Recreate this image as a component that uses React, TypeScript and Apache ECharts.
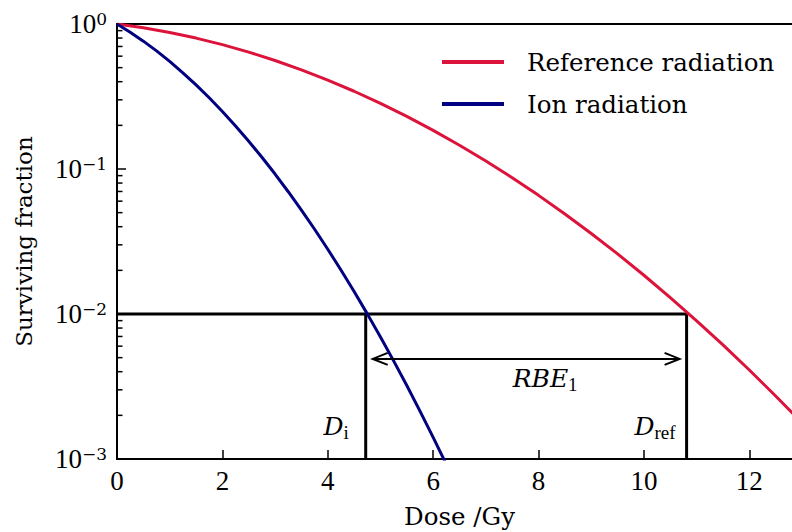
import React, { useEffect, useRef } from "react";
import * as echarts from "echarts";

// Reference radiation (photon) survival curve
const doseRef = [0, 0.5, 1, 1.5, 2, 2.5, 3, 3.5, 4, 4.5, 5, 5.5, 6, 6.5, 7, 7.5, 8, 8.5, 9, 9.5, 10, 10.5, 11, 11.5, 12, 12.5, 13];
const survRef = [1, 0.9419, 0.8742, 0.7996, 0.7206, 0.64, 0.5601, 0.4831, 0.4105, 0.3437, 0.2837, 0.2306, 0.1848, 0.1459, 0.1135, 0.0871, 0.0658, 0.049, 0.0359, 0.02597, 0.0185, 0.01298, 0.00898, 0.00612, 0.00411, 0.00272, 0.00178];

// Ion radiation survival curve
const doseIon = [0, 0.25, 0.5, 0.75, 1, 1.25, 1.5, 1.75, 2, 2.25, 2.5, 2.75, 3, 3.25, 3.5, 3.75, 4, 4.25, 4.5, 4.75, 5, 5.25, 5.5, 5.75, 6, 6.25];
const survIon = [1, 0.8781, 0.7615, 0.6522, 0.5517, 0.4609, 0.3802, 0.3098, 0.2493, 0.1981, 0.1555, 0.1205, 0.0923, 0.0697, 0.0521, 0.0384, 0.02797, 0.02012, 0.01428, 0.01002, 0.00694, 0.00475, 0.00321, 0.00214, 0.00141, 0.000918];

// Iso-effect annotation
const sfLevel = 0.01;
const doseIonIso = 4.72;
const doseRefIso = 10.81;
const arrowLevel = 0.0049;

// Axes
const xMin = 0;
const xMax = 13;
const xInterval = 2;
const yMin = 0.001;
const yMax = 1;
const yDecades = [0.001, 0.01, 0.1];
const minorMultipliers = [2, 3, 4, 5, 6, 7, 8, 9];

const seriesNames = ["Reference radiation", "Ion radiation"];

const SERIF = "Liberation Serif";
const TEXT = "DejaVu Serif";

export default function App() {
  const ref = useRef<HTMLDivElement>(null);

  useEffect(() => {
    const chart = echarts.init(ref.current!, null, { renderer: "svg" });

    const minorValues: number[] = [];
    yDecades.forEach((d) => minorMultipliers.forEach((k) => minorValues.push(k * d)));

    const sup = (v: number) => {
      const e = Math.round(Math.log10(v));
      return `{b|10}{s|${e === 0 ? "0" : "\u2212" + -e}}`;
    };

    const mathRich = {
      m: { fontFamily: TEXT, fontStyle: "italic", fontSize: 25, color: "#000", padding: [0, 0, 3, 0] },
      s: { fontFamily: SERIF, fontSize: 19, color: "#000", verticalAlign: "bottom" },
    };

    const option: any = {
      animation: false,
      backgroundColor: "#fff",
      grid: {
        left: 117,
        top: 24,
        width: 685,
        height: 435,
        containLabel: false,
        outerBoundsMode: "none",
        show: true,
        borderColor: "#000",
        borderWidth: 2,
        backgroundColor: "transparent",
      },
      legend: {
        orient: "vertical",
        left: 442,
        top: 47,
        padding: 0,
        itemGap: 12,
        itemWidth: 62,
        itemHeight: 4,
        icon: "rect",
        data: seriesNames,
        textStyle: {
          fontFamily: TEXT,
          fontSize: 24.5,
          lineHeight: 30,
          color: "#000",
          padding: [0, 0, 0, 18],
        },
      },
      xAxis: {
        type: "value",
        min: xMin,
        max: xMax,
        interval: xInterval,
        name: "Dose /Gy",
        nameLocation: "middle",
        nameGap: 45,
        nameTextStyle: { fontFamily: TEXT, fontSize: 24.5, color: "#000" },
        axisLine: { show: true, lineStyle: { color: "#000", width: 2 } },
        axisTick: { show: true, inside: true, length: 9, lineStyle: { color: "#000", width: 1.5 } },
        axisLabel: { fontFamily: SERIF, fontSize: 27, color: "#000", margin: 8, showMaxLabel: false },
        splitLine: { show: false },
      },
      yAxis: {
        type: "log",
        logBase: 10,
        min: yMin,
        max: yMax,
        name: "Surviving fraction",
        nameLocation: "middle",
        nameGap: 82,
        nameTextStyle: { fontFamily: TEXT, fontSize: 23, color: "#000" },
        axisLine: { show: true, lineStyle: { color: "#000", width: 2 } },
        axisTick: { show: true, inside: true, length: 9, lineStyle: { color: "#000", width: 1.5 } },
        axisLabel: {
          margin: 10,
          formatter: sup,
          rich: {
            b: { fontFamily: SERIF, fontSize: 27, lineHeight: 27, color: "#000" },
            s: { fontFamily: TEXT, fontSize: 17, lineHeight: 19, color: "#000", verticalAlign: "top" },
          },
        },
        splitLine: { show: false },
      },
      series: [
        {
          name: "iso-ref",
          type: "line",
          silent: true,
          showSymbol: false,
          symbol: "none",
          data: [
            [xMin, sfLevel],
            [doseRefIso, sfLevel],
            [doseRefIso, yMin],
          ],
          lineStyle: { color: "#000", width: 3 },
          itemStyle: { color: "#000" },
        },
        {
          name: "iso-ion",
          type: "line",
          silent: true,
          showSymbol: false,
          symbol: "none",
          data: [
            [doseIonIso, sfLevel],
            [doseIonIso, yMin],
          ],
          lineStyle: { color: "#000", width: 3 },
          itemStyle: { color: "#000" },
        },
        {
          name: "annotation",
          type: "custom",
          silent: true,
          z: 5,
          encode: { x: [0, 1], y: [2, 3] },
          data: [[doseIonIso, doseRefIso, arrowLevel, yMin]],
          renderItem: (_params: any, api: any) => {
            const x1 = api.value(0);
            const x2 = api.value(1);
            const yv = api.value(2);
            const yb = api.value(3);
            const p1 = api.coord([x1, yv]);
            const p2 = api.coord([x2, yv]);
            const b1 = api.coord([x1, yb]);
            const b2 = api.coord([x2, yb]);
            const gap = 7;
            const hl = 15;
            const hw = 6;
            const ax1 = p1[0] + gap;
            const ax2 = p2[0] - gap;
            const y = p1[1];
            const st = { stroke: "#000", lineWidth: 2, fill: null };
            const minorTicks = minorValues.map((v) => {
              const p = api.coord([xMin, v]);
              return {
                type: "rect",
                shape: { x: p[0], y: p[1] - 0.75, width: 5.5, height: 1.5 },
                style: { fill: "#000" },
              };
            });
            return {
              type: "group",
              children: [
                ...minorTicks,
                { type: "line", shape: { x1: ax1, y1: y, x2: ax2, y2: y }, style: st },
                { type: "polyline", shape: { points: [[ax1 + hl, y - hw], [ax1, y], [ax1 + hl, y + hw]] }, style: st },
                { type: "polyline", shape: { points: [[ax2 - hl, y - hw], [ax2, y], [ax2 - hl, y + hw]] }, style: st },
                {
                  type: "text",
                  x: (ax1 + ax2) / 2 + 19,
                  y: y + 7,
                  style: { text: "{m|RBE}{s|1}", rich: mathRich, align: "center", verticalAlign: "top", fill: "#000" },
                },
                {
                  type: "text",
                  x: b1[0] - 17,
                  y: b1[1] - 17,
                  style: { text: "{m|D}{s|i}", rich: mathRich, align: "right", verticalAlign: "bottom", fill: "#000" },
                },
                {
                  type: "text",
                  x: b2[0] - 11,
                  y: b2[1] - 17,
                  style: { text: "{m|D}{s|ref}", rich: mathRich, align: "right", verticalAlign: "bottom", fill: "#000" },
                },
              ],
            };
          },
        },
        {
          name: seriesNames[0],
          type: "line",
          showSymbol: false,
          symbol: "none",
          clip: true,
          data: doseRef.map((d, i) => [d, survRef[i]]),
          color: "#DC143C",
          lineStyle: { color: "#DC143C", width: 3 },
          itemStyle: { color: "#DC143C" },
        },
        {
          name: seriesNames[1],
          type: "line",
          showSymbol: false,
          symbol: "none",
          clip: true,
          data: doseIon.map((d, i) => [d, survIon[i]]),
          color: "#000080",
          lineStyle: { color: "#000080", width: 3 },
          itemStyle: { color: "#000080" },
        },
      ],
    };

    chart.setOption(option);
    return () => chart.dispose();
  }, []);

  return (
    <div
      ref={ref}
      style={{ position: "fixed", left: 0, top: 0, width: 792, height: 532, background: "#fff" }}
    />
  );
}
